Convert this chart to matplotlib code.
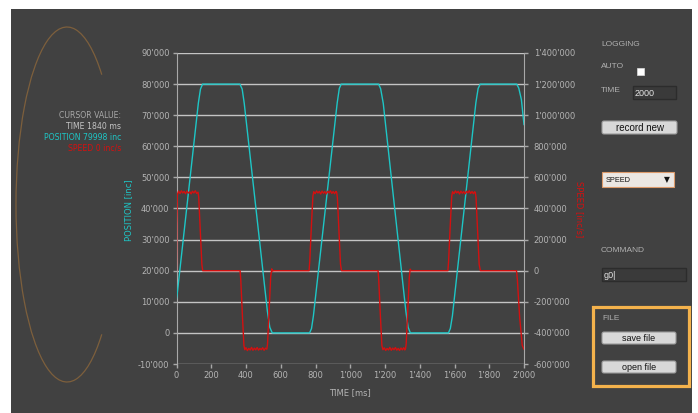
import matplotlib
matplotlib.use('Agg')
import matplotlib.pyplot as plt
from matplotlib.patches import Rectangle, FancyBboxPatch, Arc
from matplotlib.ticker import FuncFormatter, MultipleLocator

# --- data (time in ms) ---
pos_t = [0, 4, 126, 138, 150, 365, 378, 390, 523, 537, 551, 766, 777, 788, 925, 937, 948,
         1163, 1175, 1190, 1320, 1333, 1346, 1565, 1576, 1588, 1723, 1736, 1748,
         1958, 1970, 1985, 2000]
pos_v = [11000, 12500, 74000, 78400, 80000, 80000, 78400, 73750, 7000, 1800, 0, 0, 1400, 5500,
         74000, 78600, 80000, 80000, 78500, 73800, 7000, 1800, 0, 0, 1400, 5500, 74000, 78600,
         80000, 80000, 78700, 75000, 67000]

spd_t = [0, 2, 5, 12, 20, 28, 36, 44, 52, 60, 68, 76, 84, 92, 100, 108, 116, 124, 128, 137, 146, 151,
         366, 370, 379, 388, 393, 400, 408, 416, 424, 432, 440, 448, 456, 464, 472, 480, 488, 496,
         504, 512, 520, 524, 533, 542, 548, 553, 558,
         763, 767, 776, 785, 790, 798, 806, 814, 822, 830, 838, 846, 854, 862, 870, 878, 886, 894,
         902, 910, 918, 922, 926, 935, 944, 950,
         1160, 1164, 1173, 1182, 1188, 1196, 1204, 1212, 1220, 1228, 1236, 1244, 1252, 1260, 1268,
         1276, 1284, 1292, 1300, 1308, 1314, 1318, 1322, 1331, 1340, 1345, 1350,
         1562, 1566, 1575, 1584, 1589, 1597, 1605, 1613, 1621, 1629, 1637, 1645, 1653, 1661, 1669,
         1677, 1685, 1693, 1701, 1709, 1716, 1720, 1724, 1733, 1742, 1749,
         1957, 1962, 1975, 1990, 2000]
spd_v = [0, 300000, 490000, 512000, 496000, 514000, 500000, 510000, 495000, 512000, 499000, 508000,
         494000, 511000, 500000, 514000, 497000, 505000, 470000, 250000, 40000, 0,
         0, -60000, -280000, -480000, -508000, -495000, -514000, -500000, -510000, -493000, -512000,
         -498000, -509000, -494000, -511000, -500000, -508000, -495000, -512000, -498000, -505000,
         -470000, -250000, -40000, 12000, -3000, 0,
         0, 60000, 280000, 480000, 508000, 495000, 513000, 500000, 510000, 493000, 512000, 498000,
         509000, 494000, 511000, 500000, 514000, 497000, 509000, 495000, 510000, 503000, 470000,
         250000, 40000, 0,
         0, -60000, -280000, -480000, -508000, -496000, -513000, -500000, -510000, -493000, -512000,
         -498000, -508000, -494000, -511000, -500000, -513000, -497000, -509000, -495000, -510000,
         -503000, -470000, -250000, -40000, 10000, 0,
         0, 60000, 280000, 480000, 508000, 495000, 513000, 500000, 510000, 493000, 512000, 498000,
         509000, 494000, 511000, 500000, 514000, 497000, 509000, 495000, 508000, 503000, 470000,
         250000, 40000, 0,
         0, -60000, -300000, -480000, -505000]

cursor_lines = ['CURSOR VALUE:', 'TIME 1840 ms', 'POSITION 79998 inc', 'SPEED 0 inc/s']

W, H = 698, 413
BG = '#414141'; CYAN = '#1ec6c6'; RED = '#d41010'; TXT = '#b4b4b4'; GRID = '#c4c4c4'
UI_FONT = ['Liberation Sans', 'DejaVu Sans']

fig = plt.figure(figsize=(W / 100, H / 100), dpi=100, facecolor='white')

# pixel-space overlay for the surrounding panel
bg = fig.add_axes([0, 0, 1, 1], zorder=0)
bg.set_xlim(0, W); bg.set_ylim(H, 0); bg.axis('off')
bg.add_patch(Rectangle((11, 9), 681, 404, facecolor=BG, edgecolor='none'))
bg.add_patch(Arc((67, 204.5), 102, 355, theta1=75, theta2=285, color='#7d5f3c', lw=0.9))

for i, (s, c) in enumerate(zip(cursor_lines, ['#a8a8a8', '#c4c4c4', CYAN, RED])):
    bg.text(121, 116 + i * 10.6, s, color=c, fontsize=5.6, ha='right', va='center')

# right control panel
def label(x, y, s, **kw):
    bg.text(x, y, s, color='#b0b0b0', fontsize=6, ha='left', va='center', family=UI_FONT, **kw)

def button(x, y, w, h, s, fs=6.5):
    bg.add_patch(FancyBboxPatch((x, y), w, h, boxstyle='round,pad=0,rounding_size=2',
                                facecolor='#d8d8d8', edgecolor='#9a9a9a', lw=0.8))
    bg.text(x + w / 2, y + h / 2 + 0.5, s, color='#111111', fontsize=fs, ha='center', va='center', family=UI_FONT)

def textbox(x, y, w, h, s):
    bg.add_patch(Rectangle((x, y), w, h, facecolor='#3a3a3a', edgecolor='#2c2c2c', lw=1))
    bg.text(x + 1.5, y + h / 2 + 0.5, s, color='#e4e4e4', fontsize=6.5, ha='left', va='center', family=UI_FONT)

label(601, 44, 'LOGGING')
label(601, 67, 'AUTO')
bg.add_patch(Rectangle((637, 68), 7, 7, facecolor='white', edgecolor='#dddddd', lw=0.5))
label(601, 90, 'TIME')
textbox(633, 86, 43, 13, '2000')
button(602, 121, 75, 13, 'record new', fs=7)
bg.add_patch(Rectangle((602, 172), 72, 15, facecolor='#ebe7e3', edgecolor='#dc9a6a', lw=0.8))
bg.text(606, 180, 'SPEED', color='#111111', fontsize=5.3, ha='left', va='center', family=UI_FONT)
bg.text(667, 180, '▼', color='#111111', fontsize=5.5, ha='center', va='center')
label(601, 250, 'COMMAND')
textbox(602, 268, 84, 13, 'g0|')
bg.add_patch(Rectangle((593, 307), 96, 79, facecolor='none', edgecolor='#f4b24c', lw=2.3))
label(602, 318, 'FILE')
button(602, 332, 74, 12, 'save file')
button(602, 361, 74, 12, 'open file')

# --- chart ---
x0, x1, yt, yb = 176.5, 524, 53, 364
ax = fig.add_axes([x0 / W, 1 - yb / H, (x1 - x0) / W, (yb - yt) / H], zorder=1)
ax.set_facecolor('none')
ax.set_xlim(0, 2000); ax.set_ylim(-10000, 90000)
ax2 = ax.twinx()
ax2.set_ylim(-600000, 1400000)

fmt = FuncFormatter(lambda v, p: f'{v:,.0f}'.replace(',', "'"))
ax.yaxis.set_major_locator(MultipleLocator(10000))
ax.xaxis.set_major_locator(MultipleLocator(200))
ax2.yaxis.set_major_locator(MultipleLocator(200000))
for a in (ax, ax2):
    a.yaxis.set_major_formatter(fmt)
    for sp in a.spines.values():
        sp.set_visible(False)
ax.xaxis.set_major_formatter(fmt)
ax.spines['left'].set_visible(True); ax.spines['left'].set_color('#a8a8a8')
ax2.spines['right'].set_visible(True); ax2.spines['right'].set_color('#a8a8a8')
ax.grid(axis='y', color=GRID, lw=1)
ax.tick_params(colors='#a8a8a8', labelcolor=TXT, labelsize=6, length=3, width=1, pad=2)
ax2.tick_params(colors='#a8a8a8', labelcolor=TXT, labelsize=6, length=3, width=1, pad=4)

ax.plot(pos_t, pos_v, color=CYAN, lw=1.0, zorder=3)
ax2.plot(spd_t, spd_v, color=RED, lw=1.0, zorder=2)

ax.set_xlabel('TIME [ms]', color=TXT, fontsize=6)
ax.xaxis.set_label_coords((350 - x0) / (x1 - x0), -(388 - yb) / (yb - yt))
ax.set_ylabel('POSITION [inc]', color=CYAN, fontsize=6)
ax.yaxis.set_label_coords(-(x0 - 133) / (x1 - x0), (yb - 210) / (yb - yt))
ax2.set_ylabel('SPEED [inc/s]', color=RED, fontsize=6, rotation=270, va='center')
ax2.yaxis.set_label_coords((579 - x0) / (x1 - x0), (yb - 209) / (yb - yt))

plt.savefig('out.png', dpi=100, facecolor='white')
